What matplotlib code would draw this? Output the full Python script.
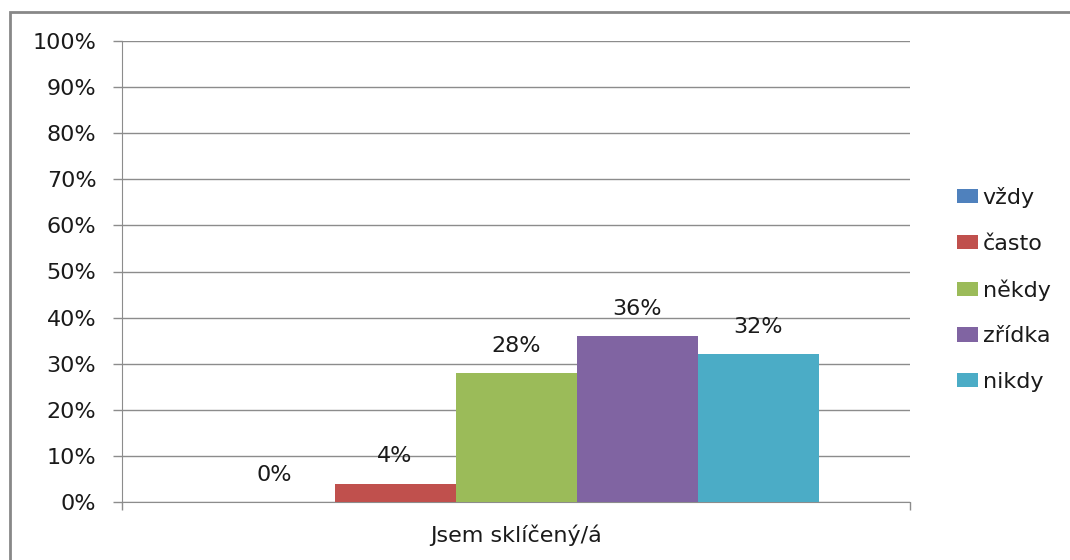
import matplotlib.pyplot as plt
from matplotlib.patches import Rectangle

category = 'Jsem sklíčený/á'
series = ['vždy', 'často', 'někdy', 'zřídka', 'nikdy']
values = [0, 4, 28, 36, 32]  # percent
colors = ['#4F81BD', '#C0504D', '#9BBB59', '#8064A2', '#4BACC6']
yticks = [0, 10, 20, 30, 40, 50, 60, 70, 80, 90, 100]

plt.rcParams['font.family'] = ['DejaVu Sans']
grid_col = '#8C8C8C'
txt_col = '#1A1A1A'
fs = 16

fig = plt.figure(figsize=(10.7, 5.6), dpi=100)
# outer chart border (only top/left visible in the reference)
fig.patches.append(Rectangle((9.5 / 1070, -0.1), 1.2, (560 - 12) / 560 + 0.1,
                             transform=fig.transFigure, fill=False,
                             edgecolor='#888888', linewidth=2))

ax = fig.add_axes([122 / 1070, 58 / 560, 788 / 1070, 461 / 560])

w = 121 / 788
for i, (name, v, c) in enumerate(zip(series, values, colors)):
    x = (i - 2) * w
    ax.bar(x, v, width=w, color=c, label=name, zorder=3)
    ax.annotate(f'{v}%', (x, v), xytext=(0, 12.5), textcoords='offset points',
                ha='center', va='bottom', fontsize=fs, color=txt_col)

ax.set_xlim(-0.5, 0.5)
ax.set_ylim(0, 100)
ax.set_yticks(yticks)
ax.set_yticklabels([f'{t}%' for t in yticks])
ax.set_xticks([-0.5, 0.5], minor=True)
ax.set_xticks([0])
ax.set_xticklabels([category])
ax.tick_params(axis='x', which='major', length=0, pad=16, labelsize=fs, labelcolor=txt_col)
ax.tick_params(axis='x', which='minor', length=6, color=grid_col, width=1)
ax.tick_params(axis='y', length=6.5, pad=12, labelsize=fs, color=grid_col, width=1,
               labelcolor=txt_col)
ax.grid(axis='y', color=grid_col, linewidth=1, zorder=0)
for s in ['top', 'right']:
    ax.spines[s].set_visible(False)
ax.spines['left'].set_color(grid_col)
ax.spines['bottom'].set_color(grid_col)

leg = ax.legend(loc='center left', bbox_to_anchor=(1.0596, 0.461),
                frameon=False, fontsize=fs, handlelength=0.95, handleheight=0.6,
                handletextpad=0.2, labelspacing=1.15, borderaxespad=0, borderpad=0)
for t in leg.get_texts():
    t.set_color(txt_col)

fig.savefig('out.png', dpi=100)
